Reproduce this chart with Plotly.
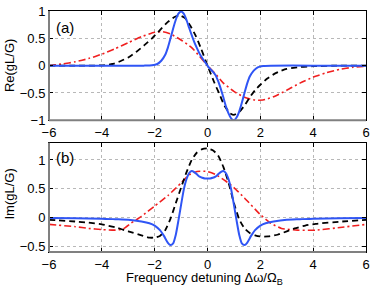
import plotly.graph_objects as go
from plotly.subplots import make_subplots

# ---- Panel (a): Re(gL/G) ----
re_blue_x = [-6, -4, -2.4, -2.1, -1.9, -1.75, -1.6, -1.5, -1.4, -1.3, -1.2, -1.1, -1.0, -0.9, -0.8, -0.7, -0.6, -0.5, -0.4, -0.3, -0.2, -0.1, 0,
             0.1, 0.2, 0.3, 0.4, 0.5, 0.6, 0.7, 0.8, 0.9, 1.0, 1.1, 1.2, 1.3, 1.4, 1.5, 1.6, 1.75, 1.9, 2.1, 2.4, 4, 6]
re_blue_y = [0, 0, 0, 0.005, 0.03, 0.09, 0.2, 0.33, 0.5, 0.68, 0.84, 0.95, 0.99, 0.95, 0.84, 0.7, 0.56, 0.43, 0.32, 0.22, 0.14, 0.07, 0,
             -0.06, -0.11, -0.17, -0.28, -0.42, -0.58, -0.75, -0.88, -0.97, -1.0, -0.95, -0.84, -0.68, -0.5, -0.33, -0.2, -0.09, -0.03, -0.005, 0, 0, 0]

re_black_x = [-6, -5, -4.5, -4, -3.6, -3.3, -3.0, -2.7, -2.4, -2.1, -1.8, -1.5, -1.25, -1.05, -0.85, -0.65, -0.45, -0.25, 0,
              0.25, 0.45, 0.65, 0.85, 1.0, 1.2, 1.4, 1.6, 1.8, 2.0, 2.25, 2.5, 2.75, 3.0, 3.5, 4, 5, 6]
re_black_y = [0, 0, 0, 0.005, 0.03, 0.08, 0.15, 0.25, 0.37, 0.5, 0.65, 0.8, 0.89, 0.92, 0.87, 0.73, 0.55, 0.32, 0,
              -0.3, -0.52, -0.74, -0.87, -0.9, -0.85, -0.73, -0.58, -0.45, -0.35, -0.24, -0.16, -0.1, -0.06, -0.025, -0.01, 0, 0]

re_red_x = [-6, -5.5, -5, -4.5, -4, -3.5, -3, -2.5, -2, -1.7, -1.4, -1.0, -0.6, -0.3, 0,
            0.3, 0.6, 1.0, 1.4, 1.8, 2.1, 2.5, 3.0, 3.5, 4.0, 4.5, 5.0, 5.5, 6.0]
re_red_y = [0.0, 0.03, 0.07, 0.13, 0.21, 0.31, 0.42, 0.53, 0.61, 0.62, 0.58, 0.47, 0.33, 0.17, 0,
            -0.15, -0.32, -0.47, -0.58, -0.63, -0.63, -0.57, -0.45, -0.32, -0.21, -0.13, -0.07, -0.03, -0.01]

# ---- Panel (b): Im(gL/G) ----
im_blue_x = [-6, -5, -4, -3.5, -3, -2.5, -2.2, -2.0, -1.8, -1.65, -1.5, -1.4, -1.3, -1.2, -1.1, -1.0, -0.9, -0.8, -0.7, -0.6, -0.5, -0.4, -0.3, -0.2, -0.1, 0,
             0.1, 0.2, 0.3, 0.4, 0.5, 0.6, 0.7, 0.8, 0.9, 1.0, 1.1, 1.2, 1.3, 1.4, 1.5, 1.65, 1.8, 2.0, 2.2, 2.5, 3, 3.5, 4, 5, 6]
im_blue_y = [-0.01, -0.015, -0.02, -0.03, -0.04, -0.07, -0.1, -0.14, -0.22, -0.32, -0.44, -0.48, -0.45, -0.3, -0.05, 0.22, 0.48, 0.66, 0.77, 0.81, 0.79, 0.75, 0.71, 0.69, 0.68, 0.68,
             0.68, 0.69, 0.71, 0.75, 0.79, 0.81, 0.77, 0.66, 0.48, 0.22, -0.05, -0.3, -0.45, -0.48, -0.44, -0.32, -0.22, -0.14, -0.1, -0.07, -0.04, -0.03, -0.02, -0.015, -0.01]

im_black_x = [-6, -5, -4.5, -4, -3.5, -3, -2.5, -2.2, -2.0, -1.8, -1.6, -1.4, -1.2, -1.0, -0.8, -0.6, -0.4, -0.2, 0,
              0.2, 0.4, 0.6, 0.8, 1.0, 1.2, 1.4, 1.6, 1.8, 2.0, 2.3, 2.65, 3.0, 3.3, 3.7, 4.1, 5.1, 6]
im_black_y = [-0.04, -0.07, -0.09, -0.12, -0.17, -0.24, -0.31, -0.35, -0.35, -0.32, -0.22, -0.02, 0.25, 0.52, 0.78, 1.0, 1.13, 1.19, 1.2,
              1.17, 1.08, 0.88, 0.6, 0.25, -0.03, -0.19, -0.27, -0.31, -0.33, -0.33, -0.3, -0.24, -0.19, -0.14, -0.11, -0.07, -0.04]

im_red_x = [-6, -5, -4.5, -4, -3.5, -3.2, -2.9, -2.5, -2, -1.5, -1, -0.7, -0.4, 0, 0.3, 0.7, 1.0, 1.4, 2.0, 2.4, 2.8, 3.4, 4.1, 5.1, 6]
im_red_y = [-0.12, -0.16, -0.19, -0.21, -0.22, -0.2, -0.1, 0.02, 0.2, 0.38, 0.6, 0.74, 0.8, 0.8, 0.75, 0.63, 0.52, 0.34, 0.05, -0.1, -0.19, -0.22, -0.22, -0.17, -0.12]

x_ticks = [-6, -4, -2, 0, 2, 4, 6]
re_ticks = [-1, -0.5, 0, 0.5, 1]
im_ticks = [-0.5, 0, 0.5, 1]

BLUE = "#2f55f5"
RED = "#f01f1f"
FONT = "Liberation Sans, Arial, sans-serif"

fig = make_subplots(rows=2, cols=1)

def add(x, y, row, color, dash, width):
    fig.add_trace(go.Scatter(x=x, y=y, mode="lines", showlegend=False, hoverinfo="skip",
                             line=dict(color=color, dash=dash, width=width, shape="spline", smoothing=0.5)),
                  row=row, col=1)

add(re_red_x, re_red_y, 1, RED, "7px,3px,2px,3px", 1.6)
add(re_black_x, re_black_y, 1, "black", "6px,4px", 1.8)
add(re_blue_x, re_blue_y, 1, BLUE, "solid", 2)
add(im_red_x, im_red_y, 2, RED, "7px,3px,2px,3px", 1.6)
add(im_black_x, im_black_y, 2, "black", "6px,4px", 1.8)
add(im_blue_x, im_blue_y, 2, BLUE, "solid", 2)

axis_common = dict(showgrid=True, gridcolor="#b8b8b8", griddash="dot", gridwidth=1,
                   showline=True, linecolor="black", linewidth=1, mirror="ticks",
                   ticks="inside", ticklen=4, tickcolor="black", zeroline=False,
                   ticklabeloverflow="allow",
                   tickfont=dict(family=FONT, size=13, color="black"))

fig.update_layout(
    width=374, height=290,
    margin=dict(l=49, r=4, t=5, b=38),
    paper_bgcolor="white", plot_bgcolor="white",
    xaxis=dict(domain=[0, 1], range=[-6, 6], tickvals=x_ticks, anchor="y", **axis_common),
    yaxis=dict(domain=[0.5466, 1], range=[-1, 1], tickvals=re_ticks, anchor="x", **axis_common),
    xaxis2=dict(domain=[0, 1], range=[-6, 6], tickvals=x_ticks, anchor="y2", **axis_common),
    yaxis2=dict(domain=[0, 0.4534], range=[-0.6, 1.3], tickvals=im_ticks, anchor="x2", **axis_common),
)

# grey left/bottom axis lines (MATLAB-like look)
for xr, yr in (("x domain", "y domain"), ("x2 domain", "y2 domain")):
    fig.add_shape(type="line", xref=xr, yref=yr, x0=0, x1=0, y0=0, y1=1,
                  line=dict(color="#808080", width=2), layer="above")
    fig.add_shape(type="line", xref=xr, yref=yr, x0=0, x1=1, y0=0, y1=0,
                  line=dict(color="#808080", width=2), layer="above")

ann_font = dict(family=FONT, size=13, color="black")
fig.add_annotation(text="Re(gL/G)", xref="paper", yref="paper", x=-0.125, y=0.773,
                   textangle=-90, showarrow=False, font=ann_font, xanchor="center", yanchor="middle")
fig.add_annotation(text="Im(gL/G)", xref="paper", yref="paper", x=-0.125, y=0.24,
                   textangle=-90, showarrow=False, font=ann_font, xanchor="center", yanchor="middle")
fig.add_annotation(text="Frequency detuning Δω/Ω<sub>B</sub>", xref="paper", yref="paper", x=0.49, y=-0.108,
                   showarrow=False, font=ann_font, xanchor="center", yanchor="middle")
fig.add_annotation(text="(a)", xref="paper", yref="paper", x=0.017, y=0.931,
                   showarrow=False, font=dict(family=FONT, size=15, color="black"), xanchor="left", yanchor="middle")
fig.add_annotation(text="(b)", xref="paper", yref="paper", x=0.017, y=0.393,
                   showarrow=False, font=dict(family=FONT, size=15, color="black"), xanchor="left", yanchor="middle")

fig.write_html("out.html", config={"displayModeBar": False},
               post_script="document.body.style.margin='0';document.body.style.padding='0';")
